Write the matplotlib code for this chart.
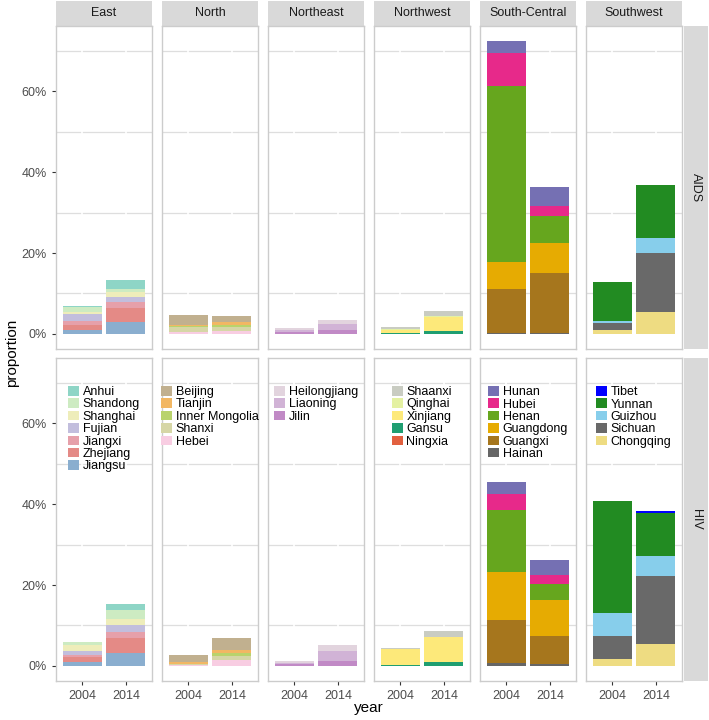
import matplotlib
matplotlib.use("Agg")
import matplotlib.pyplot as plt
from matplotlib.patches import Patch, Rectangle

plt.rcParams['font.family'] = ['Liberation Sans', 'DejaVu Sans']

# data (percent of national total)
regions = ["East", "North", "Northeast", "Northwest", "South-Central", "Southwest"]
diseases = ["AIDS", "HIV"]
years = ["2004", "2014"]

provinces = {
    "East": ["Anhui", "Shandong", "Shanghai", "Fujian", "Jiangxi", "Zhejiang", "Jiangsu"],
    "North": ["Beijing", "Tianjin", "Inner Mongolia", "Shanxi", "Hebei"],
    "Northeast": ["Heilongjiang", "Liaoning", "Jilin"],
    "Northwest": ["Shaanxi", "Qinghai", "Xinjiang", "Gansu", "Ningxia"],
    "South-Central": ["Hunan", "Hubei", "Henan", "Guangdong", "Guangxi", "Hainan"],
    "Southwest": ["Tibet", "Yunnan", "Guizhou", "Sichuan", "Chongqing"],
}

colors = {
    "East": ["#8ED5C6", "#CDEBC2", "#EEEDBA", "#C2BEDD", "#E6A0AA", "#E48A86", "#8AAECF"],
    "North": ["#C1B08F", "#F2B763", "#B9D36C", "#D6D6A6", "#F8CDE2"],
    "Northeast": ["#E2D4DE", "#D1B3D6", "#C18AC6"],
    "Northwest": ["#C9CCC2", "#E4F1A2", "#FDE97A", "#1F9E71", "#E2603F"],
    "South-Central": ["#7570B3", "#E7298A", "#66A61E", "#E6AB02", "#A6761D", "#666666"],
    "Southwest": ["#0000FF", "#228B22", "#87CEEB", "#696969", "#EEDC82"],
}

# values per region, province order as above
aids_2004 = {
    "East": [0.2, 1.2, 0.5, 1.6, 1.1, 1.2, 1.0],
    "North": [2.5, 0.2, 0.2, 1.2, 0.6],
    "Northeast": [0.4, 0.5, 0.5],
    "Northwest": [0.4, 0.2, 0.65, 0.3, 0.05],
    "South-Central": [3.1, 8.2, 43.4, 6.6, 11.0, 0.2],
    "Southwest": [0.0, 9.7, 0.4, 1.8, 1.0],
}
aids_2014 = {
    "East": [2.1, 0.9, 1.2, 1.2, 1.6, 3.3, 3.0],
    "North": [1.5, 0.9, 0.4, 0.9, 0.8],
    "Northeast": [1.0, 1.5, 1.0],
    "Northwest": [1.2, 0.1, 3.6, 0.6, 0.05],
    "South-Central": [4.7, 2.5, 6.5, 7.6, 14.8, 0.2],
    "Southwest": [0.0, 13.2, 3.7, 14.6, 5.3],
}
hiv_2004 = {
    "East": [0.2, 0.7, 1.4, 1.1, 0.4, 1.2, 1.0],
    "North": [1.8, 0.3, 0.1, 0.3, 0.2],
    "Northeast": [0.3, 0.4, 0.4],
    "Northwest": [0.25, 0.05, 4.1, 0.1, 0.05],
    "South-Central": [2.9, 4.1, 15.3, 11.7, 10.7, 0.75],
    "Southwest": [0.0, 27.7, 5.5, 5.7, 1.8],
}
hiv_2014 = {
    "East": [1.6, 2.1, 1.5, 1.8, 1.6, 3.5, 3.3],
    "North": [3.1, 0.7, 0.8, 1.0, 1.4],
    "Northeast": [1.4, 2.6, 1.2],
    "Northwest": [1.5, 0.1, 6.1, 0.9, 0.1],
    "South-Central": [3.7, 2.2, 4.0, 8.9, 6.9, 0.5],
    "Southwest": [0.3, 10.7, 5.0, 16.7, 5.5],
}
data = {"AIDS": [aids_2004, aids_2014], "HIV": [hiv_2004, hiv_2014]}

W, H = 709, 720
fig = plt.figure(figsize=(W / 100, H / 100), dpi=100)


def box(x0, y0, x1, y1):
    return [x0 / W, 1 - y1 / H, (x1 - x0) / W, (y1 - y0) / H]


grey_txt = "#4D4D4D"
border = "#CCCCCC"
strip_bg = "#D9D9D9"

ymax_data = max(sum(d[r]) for dd in data.values() for d in dd for r in regions)
ylim = (-0.05 * ymax_data, 1.05 * ymax_data)

col_x = [56 + i * 106 for i in range(6)]
row_y = [(26, 348.6), (358, 680.6)]

for ci, reg in enumerate(regions):
    x0 = col_x[ci]
    x1 = x0 + 96
    # top strip
    sax = fig.add_axes(box(x0, 1, x1, 26))
    sax.add_patch(Rectangle((0, 0), 1, 1, transform=sax.transAxes, color=strip_bg))
    sax.text(0.5, 0.5, reg, ha="center", va="center", fontsize=9, color="#1A1A1A")
    sax.set_axis_off()

    for ri, dis in enumerate(diseases):
        y0, y1 = row_y[ri]
        ax = fig.add_axes(box(x0, y0, x1, y1))
        provs = provinces[reg]
        cols = colors[reg]
        for yi in range(2):
            vals = data[dis][yi][reg]
            bottom = 0.0
            for p in range(len(provs) - 1, -1, -1):
                ax.bar(yi + 1, vals[p], bottom=bottom, width=0.9, color=cols[p], linewidth=0)
                bottom += vals[p]
        ax.set_xlim(0.4, 2.6)
        ax.set_ylim(*ylim)
        for g in [10, 30, 50, 70]:
            ax.axhline(g, color="#DEDEDE", lw=0.9, zorder=0)
        for g in [0, 20, 40, 60]:
            ax.axhline(g, color="white", lw=1.2, zorder=0.1)
        for g in [1, 2]:
            ax.axvline(g, color="white", lw=1.2, zorder=0.2)
        ax.set_axisbelow(True)
        for s in ax.spines.values():
            s.set_color(border)
            s.set_linewidth(1.0)
        ax.set_xticks([1, 2])
        ax.set_yticks([0, 20, 40, 60])
        ax.tick_params(colors="#333333", length=3, width=0.8, labelcolor=grey_txt, labelsize=9)
        if ri == 1:
            ax.set_xticklabels(years)
        else:
            ax.tick_params(axis="x", length=0, labelbottom=False)
        if ci == 0:
            ax.set_yticklabels(["0%", "20%", "40%", "60%"])
        else:
            ax.tick_params(axis="y", length=0, labelleft=False)

        if ri == 1:
            handles = [Patch(facecolor=c, edgecolor="none", label=p) for p, c in zip(provs, cols)]
            ax.legend(handles=handles, loc="upper center",
                      bbox_to_anchor=(0.5, 1 - 28 / 322.6), borderaxespad=0,
                      frameon=False, fontsize=9, handlelength=0.85, handleheight=0.8,
                      labelspacing=0.02, handletextpad=0.3, borderpad=0)

# right strips
for ri, dis in enumerate(diseases):
    y0, y1 = row_y[ri]
    sax = fig.add_axes(box(684, y0, 708, y1))
    sax.add_patch(Rectangle((0, 0), 1, 1, transform=sax.transAxes, color=strip_bg))
    sax.text(0.5, 0.5, dis, ha="center", va="center", rotation=-90, fontsize=9, color="#1A1A1A")
    sax.set_axis_off()

fig.text(369 / W, 1 - 708 / H, "year", ha="center", va="center", fontsize=11)
fig.text(12 / W, 1 - 353 / H, "proportion", ha="center", va="center", rotation=90, fontsize=11)

fig.savefig("out.png", dpi=100)
